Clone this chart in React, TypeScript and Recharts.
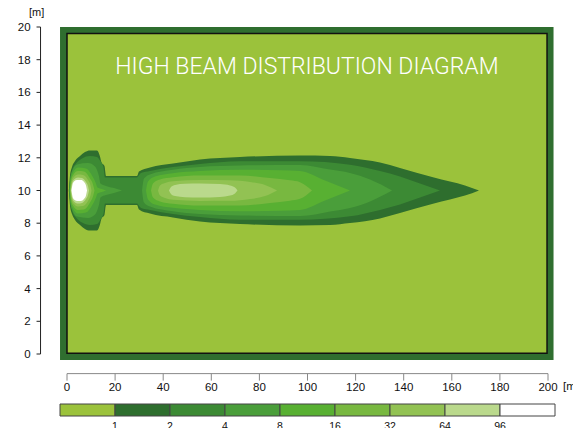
import { ComposedChart, Area, XAxis, YAxis, ReferenceArea, ReferenceLine, BarChart, Bar } from "recharts";

// beam axis height [m]; contours are stored as [distance x m, half width m]
const beamAxis = 10;

const level1: number[][] = [
  [0.75, 0], [0.96, 0.37], [1.25, 0.92], [2.08, 1.44], [3.33, 1.8], [5.41, 2.11], [7.48, 2.35], [9.56, 2.45],
  [12.47, 2.45], [13.72, 2.08], [14.35, 1.71], [15.59, 1.5], [16.22, 0.89], [29.11, 0.89], [29.94, 1.16],
  [34.51, 1.41], [44.07, 1.65], [55.3, 1.9], [71.93, 2.05], [96.88, 2.14], [109.36, 2.11], [117.67, 1.99],
  [130.15, 1.71], [138.46, 1.38], [152.18, 0.81], [159.25, 0.55], [165.49, 0.31], [171.31, 0],
];
const level2: number[][] = [
  [0.83, 0], [1.25, 0.61], [2.08, 1.22], [3.74, 1.65], [6.24, 1.96], [9.56, 2.11], [12.47, 2.05], [13.72, 1.83],
  [15.18, 1.41], [15.8, 0.8], [29.11, 0.8], [29.52, 0.86], [30.77, 1.07], [34.51, 1.19], [44.07, 1.43],
  [55.3, 1.62], [71.93, 1.79], [96.88, 1.79], [117.67, 1.58], [130.15, 1.19], [138.46, 0.86], [146.78, 0.43],
  [155.09, 0],
];
const level3Spot: number[][] = [
  [1.04, 0], [1.33, 0.67], [2.08, 1.16], [4.16, 1.59], [8.73, 1.68], [11.64, 1.47], [13.31, 0.86], [13.93, 0.43],
  [16.22, 0.28], [19.54, 0.15], [22.87, 0],
];
const level3Beam: number[][] = [
  [31.19, 0], [32.02, 0.73], [34.51, 0.98], [44.07, 1.27], [55.3, 1.44], [71.93, 1.53], [96.88, 1.56],
  [109.36, 1.28], [117.67, 1.07], [125.99, 0.67], [135.14, 0],
];
const level4Spot: number[][] = [
  [1.16, 0], [1.46, 0.61], [2.29, 1.04], [4.57, 1.41], [7.9, 1.35], [10.4, 0.92], [12.06, 0.43], [12.68, 0.18],
  [14.55, 0.09], [16.22, 0],
];
const level4Beam: number[][] = [
  [32.85, 0], [33.68, 0.55], [36.59, 0.86], [44.07, 1.06], [55.3, 1.19], [71.93, 1.27], [88.57, 1.24],
  [96.88, 1.19], [107.28, 0.61], [117.67, 0],
];
const level5Spot: number[][] = [
  [1.25, 0], [1.66, 0.55], [2.49, 0.92], [4.57, 1.19], [7.07, 1.16], [9.56, 0.73], [10.81, 0.37], [11.43, 0],
];
const level5Beam: number[][] = [
  [34.93, 0], [35.76, 0.43], [38.67, 0.67], [44.07, 0.81], [55.3, 0.92], [71.93, 0.92], [84.41, 0.76],
  [92.72, 0.62], [96.88, 0.51], [101.87, 0],
];
const level6Spot: number[][] = [
  [1.46, 0], [1.87, 0.49], [2.7, 0.8], [4.57, 0.98], [6.65, 0.95], [8.73, 0.64], [9.77, 0.31], [10.19, 0],
];
const level6Beam: number[][] = [
  [37.84, 0], [38.67, 0.31], [40.75, 0.46], [44.07, 0.57], [55.3, 0.64], [67.78, 0.63], [76.09, 0.52],
  [82.33, 0.34], [87.32, 0],
];
const level7Spot: number[][] = [
  [1.66, 0], [2.08, 0.43], [2.91, 0.67], [4.57, 0.8], [6.24, 0.76], [7.9, 0.52], [8.73, 0.28], [9.15, 0],
];
const level7Beam: number[][] = [
  [42.41, 0], [43.24, 0.21], [44.91, 0.34], [49.06, 0.41], [55.3, 0.43], [63.62, 0.39], [67.78, 0.31],
  [69.85, 0.18], [70.89, 0],
];
const level8Spot: number[][] = [
  [1.87, 0], [2.29, 0.37], [2.91, 0.55], [4.16, 0.64], [5.82, 0.64], [7.07, 0.52], [7.9, 0.31], [8.32, 0],
];

const contours = [
  { level: 1, points: level1 },
  { level: 2, points: level2 },
  { level: 3, points: level3Spot },
  { level: 3, points: level3Beam },
  { level: 4, points: level4Spot },
  { level: 4, points: level4Beam },
  { level: 5, points: level5Spot },
  { level: 5, points: level5Beam },
  { level: 6, points: level6Spot },
  { level: 6, points: level6Beam },
  { level: 7, points: level7Spot },
  { level: 7, points: level7Beam },
  { level: 8, points: level8Spot },
];

const bandColors = ["#9bc23b", "#2e6e2e", "#3c8a34", "#4a9e3a", "#58b032", "#78b840", "#92c253", "#bad98c", "#ffffff"];
const bandLabels = ["1", "2", "4", "8", "16", "32", "64", "96"];
const xTicks = [0, 20, 40, 60, 80, 100, 120, 140, 160, 180, 200];
const yTicks = [0, 2, 4, 6, 8, 10, 12, 14, 16, 18, 20];

const toBand = (pts: number[][]) => pts.map(([x, hw]) => ({ x, band: [beamAxis - hw, beamAxis + hw] }));

const font = "'Liberation Sans', Arial, sans-serif";

const legendRow = [Object.fromEntries([["name", "scale"], ...bandColors.map((_, i) => [`b${i}`, 1])])];

const App = () => {
  return (
    <div style={{ position: "absolute", left: 0, top: 0, width: 573, height: 428, overflow: "hidden", background: "#fff" }}>
      <div style={{ position: "absolute", left: 0, top: 0 }}>
        <ComposedChart width={573} height={400} margin={{ top: 27, right: 17.785, bottom: 0.38, left: 0 }}>
          <XAxis
            dataKey="x"
            type="number"
            domain={[-11, 203]}
            allowDataOverflow
            ticks={xTicks}
            axisLine={false}
            tickLine={{ stroke: "#888" }}
            tickSize={7}
            tickMargin={2}
            height={26}
            tick={{ fill: "#111", fontSize: 11.5, fontFamily: font }}
          />
          <YAxis
            type="number"
            domain={[-1.2, 20]}
            allowDataOverflow
            ticks={yTicks}
            axisLine={false}
            tickLine={{ stroke: "#222" }}
            tickSize={4}
            tickMargin={6}
            width={40.545}
            tick={{ fill: "#111", fontSize: 11.5, fontFamily: font }}
          />
          <ReferenceArea x1={-2.9} x2={202.3} y1={-0.37} y2={20} fill="#2f6e2f" fillOpacity={1} stroke="none" />
          <ReferenceArea x1={0} x2={199.6} y1={0.04} y2={19.6} fill={bandColors[0]} fillOpacity={1} stroke="#111" strokeWidth={1.5} />
          {contours.map((c, i) => (
            <Area
              key={i}
              data={toBand(c.points)}
              dataKey="band"
              type="monotone"
              fill={bandColors[c.level]}
              fillOpacity={1}
              stroke="none"
              dot={false}
              activeDot={false}
              isAnimationActive={false}
            />
          ))}
          <ReferenceLine segment={[{ x: -11, y: 0 }, { x: -11, y: 20 }]} stroke="#222" ifOverflow="visible" />
          <ReferenceLine segment={[{ x: 0, y: -1.2 }, { x: 200, y: -1.2 }]} stroke="#888" ifOverflow="visible" />
        </ComposedChart>
      </div>
      <div style={{ position: "absolute", left: 0, top: 400 }}>
        <BarChart
          width={573}
          height={50}
          layout="vertical"
          data={legendRow}
          margin={{ top: 4, right: 18, bottom: 0, left: 60 }}
          barCategoryGap={0}
        >
          <XAxis
            type="number"
            domain={[0, 9]}
            ticks={[1, 2, 3, 4, 5, 6, 7, 8]}
            tickFormatter={(v: number) => bandLabels[v - 1]}
            axisLine={false}
            tickLine={false}
            tickSize={6}
            tickMargin={1}
            height={34}
            tick={{ fill: "#111", fontSize: 10.5, fontFamily: font }}
          />
          <YAxis type="category" dataKey="name" hide />
          {bandColors.map((c, i) => (
            <Bar key={i} dataKey={`b${i}`} stackId="scale" fill={c} stroke="#444" strokeWidth={1} isAnimationActive={false} />
          ))}
        </BarChart>
      </div>
      <div
        style={{
          position: "absolute",
          left: 60,
          width: 494,
          top: 52,
          textAlign: "center",
          color: "#fff",
          fontFamily: "Roboto, 'Open Sans', sans-serif",
          fontWeight: 300,
          fontSize: 23,
          letterSpacing: 0,
          lineHeight: "30px",
        }}
      >
        HIGH BEAM DISTRIBUTION DIAGRAM
      </div>
      <span style={{ position: "absolute", left: 29, top: 6, fontFamily: font, fontSize: 11, color: "#111" }}>[m]</span>
      <span style={{ position: "absolute", left: 563, top: 380, fontFamily: font, fontSize: 11.5, color: "#111" }}>[m]</span>
    </div>
  );
};

export default App;
